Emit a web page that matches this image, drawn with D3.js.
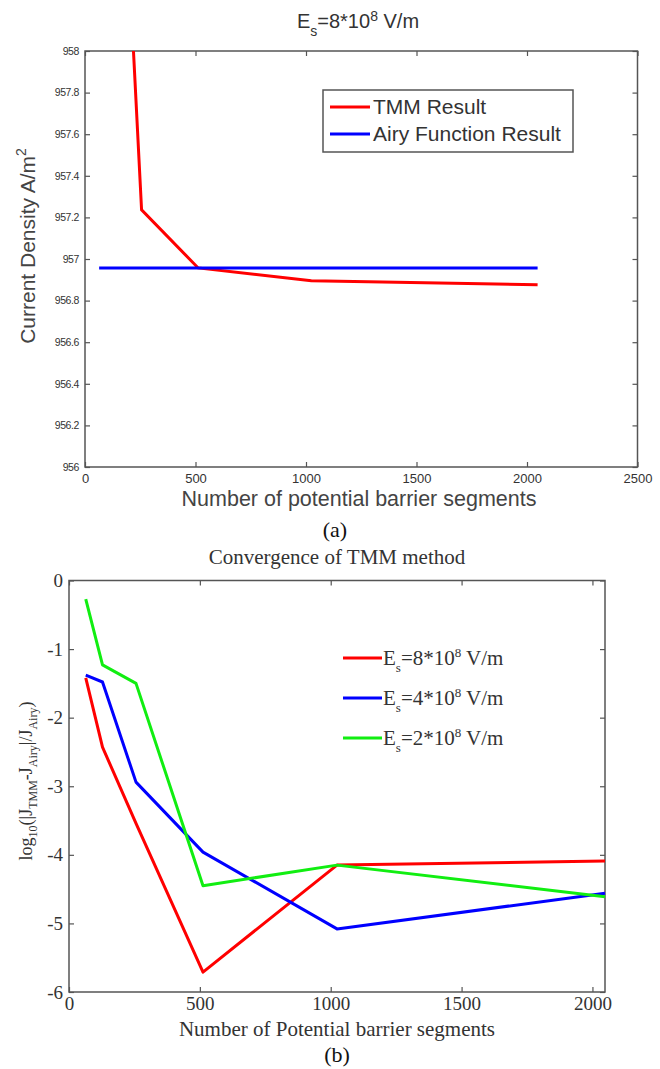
<!DOCTYPE html>
<html>
<head>
<meta charset="utf-8">
<script src="https://cdn.jsdelivr.net/npm/d3@7"></script>
<style>
  body { margin: 0; background: #fff; }
  svg { display: block; }
</style>
</head>
<body>
<script>
// ---- data (a): current density vs number of segments ----
const tmmSegments = [128, 256, 512, 1024, 2048];
const tmmDensity = [959.9, 957.236, 956.957, 956.895, 956.876];
const airySegments = [64, 2048];
const airyDensity = [956.957, 956.957];
const xTicksA = [0, 500, 1000, 1500, 2000, 2500];
const yTicksA = [956, 956.2, 956.4, 956.6, 956.8, 957, 957.2, 957.4, 957.6, 957.8, 958];

// ---- data (b): log10 relative error vs number of segments ----
const segments = [64, 128, 256, 512, 1024, 2048];
const err8 = [-1.42, -2.43, -3.54, -5.71, -4.15, -4.09];
const err4 = [-1.38, -1.48, -2.94, -3.96, -5.08, -4.56];
const err2 = [-0.27, -1.23, -1.5, -4.45, -4.15, -4.61];
const fieldLabels = ['8', '4', '2'];
const xTicksB = [0, 500, 1000, 1500, 2000];
const yTicksB = [-6, -5, -4, -3, -2, -1, 0];

const width = 660;
const height = 1069;
const sans = '"Liberation Sans", Arial, sans-serif';
const serif = '"Liberation Serif", "Times New Roman", serif';
const axisColor = '#555';
const textColor = '#333';

const svg = d3.select('body').append('svg')
  .attr('width', width)
  .attr('height', height);

// plain number format with ascii hyphen like matlab
const plain = (d) => String(+(+d).toFixed(1));

// helper: draw a box with inside ticks on all four sides
function drawFrame(g, x, y, xTicks, yTicks, fontFam, tickFont, xLabelDy, yLabelDx) {
  const [x0, x1] = x.range();
  const [y0, y1] = y.range();
  const tk = 5;

  const bottom = g.append('g').attr('transform', `translate(0,${y0})`)
    .call(d3.axisBottom(x).tickValues(xTicks).tickSize(-tk).tickPadding(xLabelDy).tickFormat(plain));
  const top = g.append('g').attr('transform', `translate(0,${y1})`)
    .call(d3.axisTop(x).tickValues(xTicks).tickSize(-tk).tickFormat(''));
  const left = g.append('g').attr('transform', `translate(${x0},0)`)
    .call(d3.axisLeft(y).tickValues(yTicks).tickSize(-tk).tickPadding(yLabelDx).tickFormat(plain));
  const right = g.append('g').attr('transform', `translate(${x1},0)`)
    .call(d3.axisRight(y).tickValues(yTicks).tickSize(-tk).tickFormat(''));

  [bottom, top, left, right].forEach((a) => {
    a.select('.domain').remove();
    a.selectAll('line').attr('stroke', axisColor).attr('stroke-width', 1.2);
    a.selectAll('text').attr('fill', textColor).attr('font-family', fontFam).attr('font-size', tickFont);
  });

  g.append('rect')
    .attr('x', x0).attr('y', y1)
    .attr('width', x1 - x0).attr('height', y0 - y1)
    .attr('fill', 'none')
    .attr('stroke', axisColor)
    .attr('stroke-width', 1.5);

  return { bottom, left };
}

// ================= panel (a) =================
const xA = d3.scaleLinear().domain([0, 2500]).range([85, 637.5]);
const yA = d3.scaleLinear().domain([956, 958]).range([467, 51]);
const gA = svg.append('g');

gA.append('clipPath').attr('id', 'clipA')
  .append('rect')
  .attr('x', xA(0)).attr('y', yA(958))
  .attr('width', xA(2500) - xA(0)).attr('height', yA(956) - yA(958));

const axesA = drawFrame(gA, xA, yA, xTicksA, yTicksA, sans, 13, 7, 6);
axesA.left.selectAll('text').attr('font-size', 10.5).attr('letter-spacing', '-0.4px');

const lineA = d3.line().x((d) => xA(d[0])).y((d) => yA(d[1]));

gA.append('path')
  .datum(d3.zip(tmmSegments, tmmDensity))
  .attr('clip-path', 'url(#clipA)')
  .attr('fill', 'none')
  .attr('stroke', '#ff0000')
  .attr('stroke-width', 3)
  .attr('d', lineA);

gA.append('path')
  .datum(d3.zip(airySegments, airyDensity))
  .attr('fill', 'none')
  .attr('stroke', '#0000ff')
  .attr('stroke-width', 3)
  .attr('d', lineA);

// title
const titleA = gA.append('text')
  .attr('x', 358).attr('y', 28)
  .attr('text-anchor', 'middle')
  .attr('font-family', sans).attr('font-size', 20)
  .attr('fill', textColor);
titleA.append('tspan').text('E');
titleA.append('tspan').attr('font-size', 14).attr('dy', 8).text('s');
titleA.append('tspan').attr('dy', -8).text('=8*10');
titleA.append('tspan').attr('font-size', 14).attr('dy', -7).text('8');
titleA.append('tspan').attr('dy', 7).text(' V/m');

// legend
const legA = gA.append('g');
legA.append('rect')
  .attr('x', 323).attr('y', 90).attr('width', 250).attr('height', 62)
  .attr('fill', '#fff').attr('stroke', axisColor).attr('stroke-width', 1.5);
[['TMM Result', '#ff0000', 107], ['Airy Function Result', '#0000ff', 134]].forEach(([label, color, ly]) => {
  legA.append('line')
    .attr('x1', 330).attr('x2', 370).attr('y1', ly).attr('y2', ly)
    .attr('stroke', color).attr('stroke-width', 3);
  legA.append('text')
    .attr('x', 373).attr('y', ly + 7)
    .attr('font-family', sans).attr('font-size', 21)
    .attr('fill', textColor)
    .text(label);
});

// axis labels
const yLabA = gA.append('text')
  .attr('transform', 'translate(35,246) rotate(-90)')
  .attr('text-anchor', 'middle')
  .attr('font-family', sans).attr('font-size', 21)
  .attr('fill', '#444');
yLabA.append('tspan').text('Current Density A/m');
yLabA.append('tspan').attr('font-size', 14).attr('dy', -9).text('2');

gA.append('text')
  .attr('x', 359).attr('y', 506)
  .attr('text-anchor', 'middle')
  .attr('font-family', sans).attr('font-size', 21.5)
  .attr('fill', '#444')
  .text('Number of potential barrier segments');

svg.append('text')
  .attr('x', 335).attr('y', 537)
  .attr('text-anchor', 'middle')
  .attr('font-family', serif).attr('font-size', 22)
  .attr('fill', '#111')
  .text('(a)');

// ================= panel (b) =================
const xB = d3.scaleLinear().domain([0, 2048]).range([69, 605]);
const yB = d3.scaleLinear().domain([-6, 0]).range([992, 580.5]);
const gB = svg.append('g');

gB.append('text')
  .attr('x', 337).attr('y', 564)
  .attr('text-anchor', 'middle')
  .attr('font-family', serif).attr('font-size', 21)
  .attr('fill', textColor)
  .text('Convergence of TMM method');

drawFrame(gB, xB, yB, xTicksB, yTicksB, serif, 19, 5, 6);

const lineB = d3.line().x((d) => xB(d[0])).y((d) => yB(d[1]));
const seriesB = [err8, err4, err2];
const colorsB = ['#ff0000', '#0000ff', '#11ee11'];

seriesB.forEach((vals, i) => {
  gB.append('path')
    .datum(d3.zip(segments, vals))
    .attr('fill', 'none')
    .attr('stroke', colorsB[i])
    .attr('stroke-width', 3)
    .attr('stroke-linejoin', 'round')
    .attr('d', lineB);
});

// legend (no box)
fieldLabels.forEach((f, i) => {
  const ly = 658 + i * 40;
  gB.append('line')
    .attr('x1', 343).attr('x2', 382).attr('y1', ly).attr('y2', ly)
    .attr('stroke', colorsB[i]).attr('stroke-width', 3);
  const t = gB.append('text')
    .attr('x', 383).attr('y', ly + 7)
    .attr('font-family', serif).attr('font-size', 21)
    .attr('fill', textColor);
  t.append('tspan').text('E');
  t.append('tspan').attr('font-size', 13).attr('dy', 7).text('s');
  t.append('tspan').attr('dy', -7).text(`=${f}*10`);
  t.append('tspan').attr('font-size', 13).attr('dy', -8).text('8');
  t.append('tspan').attr('dy', 8).text(' V/m');
});

// y label with sub-scripts
const yLabB = gB.append('text')
  .attr('transform', 'translate(32,781) rotate(-90)')
  .attr('text-anchor', 'middle')
  .attr('font-family', serif).attr('font-size', 18)
  .attr('fill', textColor);
yLabB.append('tspan').text('log');
yLabB.append('tspan').attr('font-size', 12).attr('dy', 5).text('10');
yLabB.append('tspan').attr('dy', -5).text('(|J');
yLabB.append('tspan').attr('font-size', 12).attr('dy', 5).text('TMM');
yLabB.append('tspan').attr('dy', -5).text('-J');
yLabB.append('tspan').attr('font-size', 12).attr('dy', 5).text('Airy');
yLabB.append('tspan').attr('dy', -5).text('|/J');
yLabB.append('tspan').attr('font-size', 12).attr('dy', 5).text('Airy');
yLabB.append('tspan').attr('dy', -5).text(')');

gB.append('text')
  .attr('x', 337).attr('y', 1036)
  .attr('text-anchor', 'middle')
  .attr('font-family', serif).attr('font-size', 21)
  .attr('fill', textColor)
  .text('Number of Potential barrier segments');

gB.append('text')
  .attr('x', 337).attr('y', 1062)
  .attr('text-anchor', 'middle')
  .attr('font-family', serif).attr('font-size', 22)
  .attr('fill', '#111')
  .text('(b)');
</script>
</body>
</html>
